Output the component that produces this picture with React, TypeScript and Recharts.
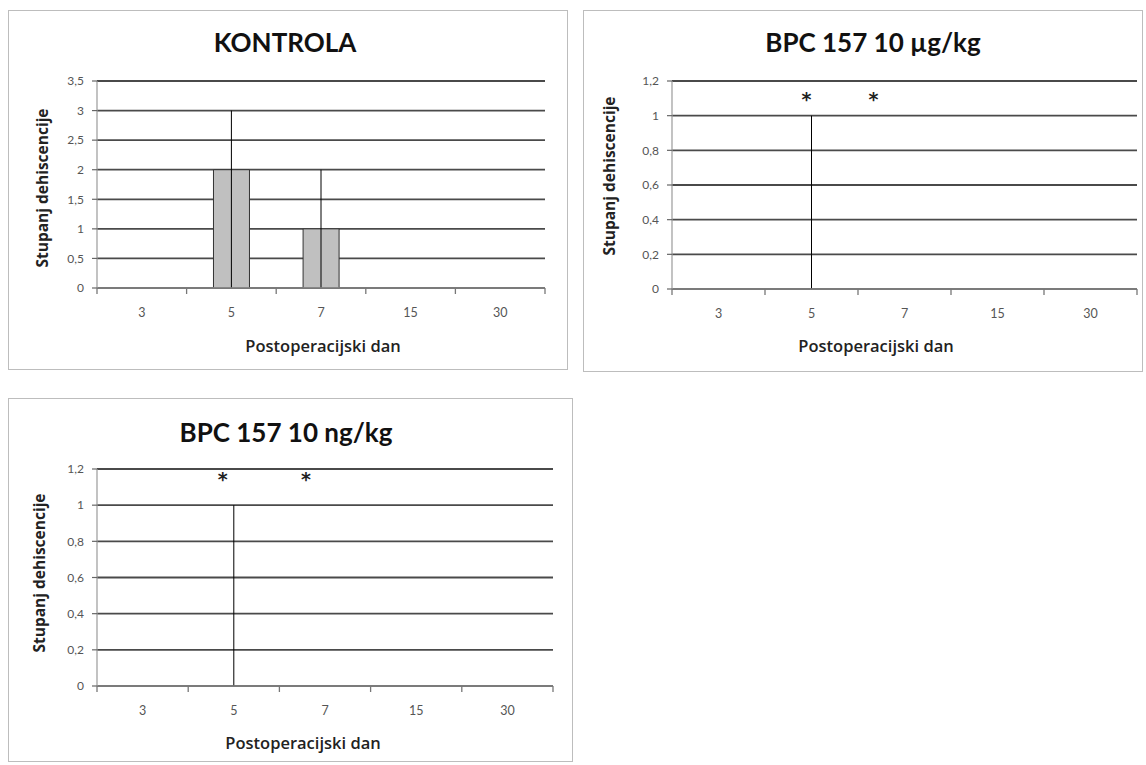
import React from 'react';
import { ComposedChart, Bar, Scatter, XAxis, YAxis, CartesianGrid, ErrorBar, ReferenceDot } from 'recharts';

// ---------- data ----------
const days = ['3', '5', '7', '15', '30'];

const controlMean = [0, 2, 1, 0, 0];
const controlErrLow = [0, 2, 1, 0, 0];
const controlErrHigh = [0, 1, 1, 0, 0];

const ugMean = [0, 0, 0, 0, 0];
const ugErrLow = [0, 0, 0, 0, 0];
const ugErrHigh = [0, 1, 0, 0, 0];

const ngMean = [0, 0, 0, 0, 0];
const ngErrLow = [0, 0, 0, 0, 0];
const ngErrHigh = [0, 1, 0, 0, 0];

const controlTicks = [0, 0.5, 1, 1.5, 2, 2.5, 3, 3.5];
const bpcTicks = [0, 0.2, 0.4, 0.6, 0.8, 1, 1.2];

const ugStarDays = ['5', '7'];
const ugStarLevel = [1.115, 1.115];
const ngStarDays = ['5', '7'];
const ngStarLevel = [1.16, 1.16];

const titles = ['KONTROLA', 'BPC 157 10 µg/kg', 'BPC 157 10 ng/kg'];
const xTitle = 'Postoperacijski dan';
const yTitle = 'Stupanj dehiscencije';

const build = (mean: number[], lo: number[], hi: number[]) =>
  days.map((d, i) => ({ day: d, value: mean[i], err: [lo[i], hi[i]] }));

const FONT = 'Lato, "Open Sans", sans-serif';
const LABEL_FONT = '"Open Sans", Lato, sans-serif';
const fmt = (v: number) => String(v).replace('.', ',');

function XTick(props: any) {
  const { x, y, payload, index, visibleTicksCount } = props;
  const off = payload && payload.offset ? payload.offset : 0;
  return (
    <g>
      <line x1={x - off} x2={x - off} y1={y} y2={y + 6} stroke="#777" strokeWidth={1.3} />
      {index === visibleTicksCount - 1 ? (
        <line x1={x + off} x2={x + off} y1={y} y2={y + 6} stroke="#777" strokeWidth={1.3} />
      ) : null}
      <text x={x} y={y + 24} textAnchor="middle" dominantBaseline="central" fill="#555" fontSize={12.5} fontFamily={FONT}>
        {payload.value}
      </text>
    </g>
  );
}

function Star(props: any) {
  const { cx, cy, dx } = props;
  return (
    <text x={cx + dx} y={cy + 10} textAnchor="middle" fontSize={19} fontWeight={700} fill="#222" fontFamily='"DejaVu Sans", sans-serif'>
      *
    </text>
  );
}

const NoDot = () => <g />;

type PanelProps = {
  left: number; top: number; w: number; h: number;
  title: string; titleX: number; titleY: number;
  xLabelX: number; xLabelY: number; yLabelX: number; yLabelY: number;
  data: any[]; ticks: number[];
  margin: { top: number; right: number; bottom: number; left: number };
  stars?: { day: string; level: number; dx: number }[];
};

function Panel(p: PanelProps) {
  const max = p.ticks[p.ticks.length - 1];
  return (
    <>
      <div style={{ position: 'absolute', left: p.left, top: p.top, width: p.w, height: p.h, border: '1px solid #bdbdbd', boxSizing: 'border-box', background: '#fff' }} />
      <div style={{ position: 'absolute', left: p.left, top: p.top }}>
        <ComposedChart width={p.w} height={p.h} data={p.data} margin={p.margin} barCategoryGap="30%">
          <CartesianGrid vertical={false} stroke="#4a4a4a" strokeWidth={1.8} />
          <XAxis dataKey="day" height={40} tickLine={false} tickSize={0} tickMargin={0} axisLine={{ stroke: '#8c8c8c', strokeWidth: 1.5 }} tick={<XTick />} interval={0} />
          <YAxis width={50} domain={[0, max]} ticks={p.ticks} tickFormatter={fmt} interval={0}
            axisLine={{ stroke: '#9a9a9a', strokeWidth: 1.2 }} tickLine={{ stroke: '#666', strokeWidth: 1.2 }} tickSize={5} tickMargin={8}
            tick={{ fill: '#555', fontSize: 12, fontFamily: FONT }} />
          <Bar dataKey="value" fill="#c0c0c0" stroke="#333" strokeWidth={1} isAnimationActive={false} />
          <Scatter dataKey="value" shape={<NoDot />} isAnimationActive={false}>
            <ErrorBar dataKey="err" width={0} stroke="#000" strokeWidth={1} direction="y" isAnimationActive={false} />
          </Scatter>
          {(p.stars || []).map((s, i) => (
            <ReferenceDot key={i} x={s.day} y={s.level} r={0} ifOverflow="visible" shape={(sp: any) => <Star {...sp} dx={s.dx} />} />
          ))}
        </ComposedChart>
      </div>
      <div style={{ position: 'absolute', left: p.titleX, top: p.titleY, transform: 'translate(-50%,-50%)', fontFamily: FONT, fontWeight: 700, fontSize: 26, color: '#111', whiteSpace: 'nowrap' }}>{p.title}</div>
      <div style={{ position: 'absolute', left: p.xLabelX, top: p.xLabelY, transform: 'translate(-50%,-50%)', fontFamily: LABEL_FONT, fontWeight: 600, fontSize: 16.5, color: '#222', whiteSpace: 'nowrap' }}>{xTitle}</div>
      <div style={{ position: 'absolute', left: p.yLabelX, top: p.yLabelY, transform: 'translate(-50%,-50%) rotate(-90deg)', fontFamily: LABEL_FONT, fontWeight: 700, fontSize: 15.5, color: '#222', whiteSpace: 'nowrap' }}>{yTitle}</div>
    </>
  );
}

export default function App() {
  const controlData = build(controlMean, controlErrLow, controlErrHigh);
  const ugData = build(ugMean, ugErrLow, ugErrHigh);
  const ngData = build(ngMean, ngErrLow, ngErrHigh);
  const ugStars = ugStarDays.map((d, i) => ({ day: d, level: ugStarLevel[i], dx: i === 0 ? -5 : -31 }));
  const ngStars = ngStarDays.map((d, i) => ({ day: d, level: ngStarLevel[i], dx: i === 0 ? -11 : -19 }));
  return (
    <div style={{ position: 'absolute', left: 0, top: 0, width: 1146, height: 765, background: '#fff', overflow: 'hidden' }}>
      <Panel left={8} top={10} w={560} h={360} title={titles[0]} titleX={285} titleY={42}
        xLabelX={323} xLabelY={345} yLabelX={42} yLabelY={188}
        data={controlData} ticks={controlTicks} margin={{ top: 71, right: 23, bottom: 42, left: 39 }} />
      <Panel left={583} top={10} w={560} h={362} title={titles[1]} titleX={873} titleY={42}
        xLabelX={876} xLabelY={345} yLabelX={609} yLabelY={176}
        data={ugData} ticks={bpcTicks} margin={{ top: 71, right: 6, bottom: 43, left: 39 }} stars={ugStars} />
      <Panel left={8} top={398} w={565} h={364} title={titles[2]} titleX={286} titleY={432}
        xLabelX={303} xLabelY={742} yLabelX={39} yLabelY={573}
        data={ngData} ticks={bpcTicks} margin={{ top: 71, right: 20, bottom: 36, left: 39 }} stars={ngStars} />
    </div>
  );
}
